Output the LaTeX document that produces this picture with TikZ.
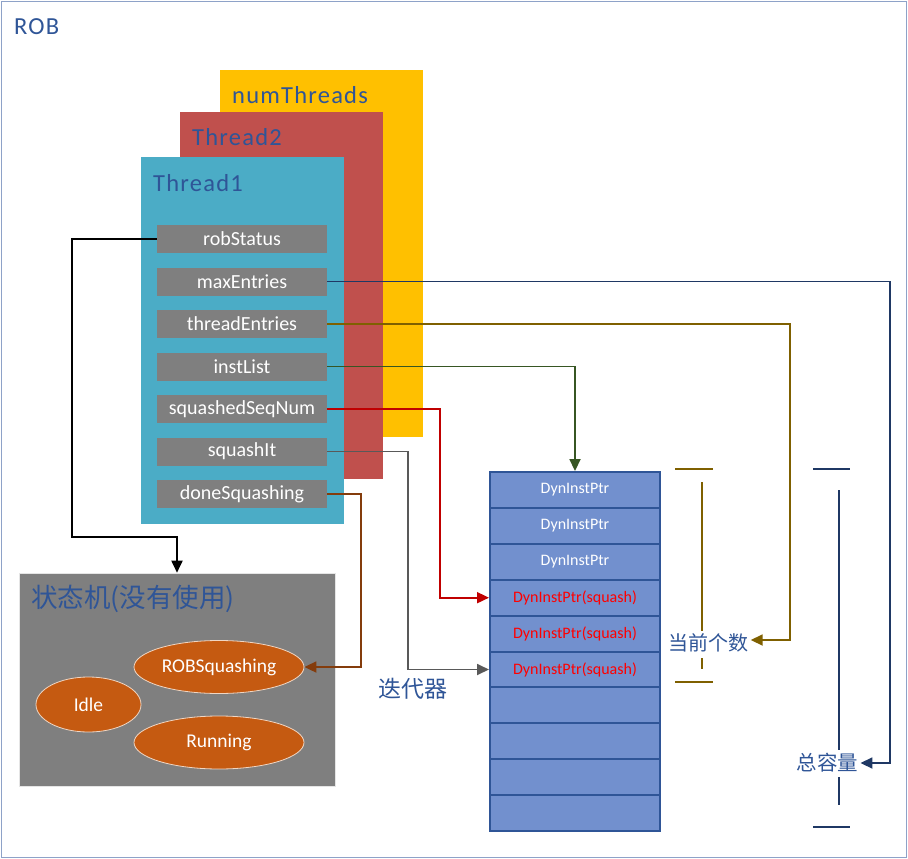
\documentclass[tikz,border=0pt]{standalone}
\usepackage{fontspec}
\setmainfont{Carlito}
\newfontfamily\cjk{Noto Sans CJK SC}
\newfontfamily\widefont[LetterSpace=5]{Carlito}
\usetikzlibrary{arrows.meta,shapes.geometric,calc}
\definecolor{titleblue}{HTML}{2F5597}
\definecolor{outerc}{HTML}{8EA2C8}
\definecolor{yellowc}{HTML}{FFC000}
\definecolor{redc}{HTML}{C0504D}
\definecolor{cyanc}{HTML}{4BACC6}
\definecolor{greyc}{HTML}{7F7F7F}
\definecolor{orangec}{HTML}{C55A11}
\definecolor{cellc}{HTML}{7290CE}
\definecolor{celledge}{HTML}{2F5597}
\definecolor{navyc}{HTML}{1F3864}
\definecolor{goldc}{HTML}{7F6000}
\definecolor{greenc}{HTML}{375623}
\definecolor{sqredc}{HTML}{C00000}
\definecolor{darkgreyc}{HTML}{595959}
\definecolor{brownc}{HTML}{843C0C}
\tikzset{
  threadbox/.style={anchor=north west, inner sep=0pt},
  titletext/.style={anchor=west, text=titleblue, font=\widefont\fontsize{24.5}{27}\selectfont, inner sep=0pt},
  field/.style={fill=greyc, minimum width=170pt, minimum height=28pt, inner sep=0pt, text=white, font=\fontsize{20}{22}\selectfont},
  cell/.style={fill=cellc, draw=celledge, line width=2pt, minimum width=170pt, minimum height=35.9pt, inner sep=0pt, font=\fontsize{16}{18}\selectfont},
  state/.style={ellipse, fill=orangec, draw=white!75!orangec, line width=0.8pt, inner sep=0pt, text=white, font=\fontsize{19.5}{22}\selectfont},
  conn/.style={line width=1.8pt},
  tip/.style={-{Triangle[length=12pt,width=11pt]}},
  cjklabel/.style={text=titleblue, inner sep=2pt, font=\cjk\fontsize{20}{22}\selectfont},
}
\begin{document}
\begin{tikzpicture}[x=1pt,y=-1pt]
\useasboundingbox (0,0) rectangle (908,859);
\draw[outerc, line width=1pt] (1.5,1.5) rectangle (906.5,857.5);
\node[titletext] (rob) at (14,27) {ROB};

% thread boxes
\node[threadbox, fill=yellowc, minimum width=203pt, minimum height=367pt] (nt) at (220,70) {};
\node[titletext] (ntl) at (232,95) {numThreads};
\node[threadbox, fill=redc, minimum width=203pt, minimum height=367pt] (t2) at (180,112) {};
\node[titletext] (t2l) at (192,137) {Thread2};
\node[threadbox, fill=cyanc, minimum width=203pt, minimum height=367pt] (t1) at (141,157) {};
\node[titletext] (t1l) at (153,183) {Thread1};

% fields
\node[field] (robStatus) at (242,239) {robStatus};
\node[field] (maxEntries) at (242,281.5) {maxEntries};
\node[field] (threadEntries) at (242,324) {threadEntries};
\node[field] (instList) at (242,366.5) {instList};
\node[field] (squashedSeqNum) at (242,409) {squashedSeqNum};
\node[field] (squashIt) at (242,451.5) {squashIt};
\node[field] (doneSquashing) at (242,494) {doneSquashing};

% state machine
\node[fill=greyc, draw=white!80!greyc, line width=0.6pt, minimum width=316pt, minimum height=213pt, inner sep=0pt] (sm) at (177,679.5) {};
\node[anchor=west, text=titleblue, inner sep=0pt, font=\cjk\fontsize{26.5}{29}\selectfont] (smt) at (31,599) {状态机(没有使用)};
\node[state, minimum width=170pt, minimum height=53pt] (robsq) at (219,667) {ROBSquashing};
\node[state, minimum width=105pt, minimum height=55pt] (idle) at (88.5,704.5) {Idle};
\node[state, minimum width=170pt, minimum height=53pt] (running) at (219,742.5) {Running};

% array
\node[cell, text=white] (r1) at (575,490) {DynInstPtr};
\node[cell, text=white] (r2) at (575,525.9) {DynInstPtr};
\node[cell, text=white] (r3) at (575,561.8) {DynInstPtr};
\node[cell, text=red] (r4) at (575,597.7) {DynInstPtr(squash)};
\node[cell, text=red] (r5) at (575,633.6) {DynInstPtr(squash)};
\node[cell, text=red] (r6) at (575,669.5) {DynInstPtr(squash)};
\node[cell] (r7) at (575,705.4) {};
\node[cell] (r8) at (575,741.3) {};
\node[cell] (r9) at (575,777.2) {};
\node[cell] (r10) at (575,813.1) {};

% labels
\node[cjklabel, font=\cjk\fontsize{23}{25}\selectfont] (iter) at (412.5,689) {迭代器};
\node[cjklabel] (cur) at (708.5,643) {当前个数};
\node[cjklabel, font=\cjk\fontsize{20.5}{23}\selectfont] (cap) at (827.5,763) {总容量};

% brackets
\draw[goldc, line width=2pt] (675,468.5) -- (713,468.5);
\draw[goldc, line width=2pt] (675,682) -- (713,682);
\draw[goldc, line width=1.6pt] (702,482) -- (702,631);
\draw[goldc, line width=1.6pt] (702,658) -- (702,669);
\draw[navyc, line width=2pt] (813,469) -- (850,469);
\draw[navyc, line width=2pt] (813,827) -- (850,827);
\draw[navyc, line width=1.6pt] (839,490) -- (839,750);
\draw[navyc, line width=1.6pt] (839,777) -- (839,805);

% connectors
\draw[conn, tip, black] (robStatus.west) -- (72,239) -- (72,537) -| (sm.north);
\draw[conn, tip, navyc] (maxEntries.east) -| (890,763) -- (cap.east);
\draw[conn, tip, goldc] (threadEntries.east) -| (790,640) -- (cur.east |- 0,640);
\draw[conn, tip, greenc] (instList.east) -| (r1.north);
\draw[conn, tip, sqredc] (squashedSeqNum.east) -- (440,409) |- (r4.west);
\draw[conn, tip, darkgreyc] (squashIt.east) -- (408,451.5) |- (r6.west);
\draw[conn, tip, brownc] (doneSquashing.east) -- (361,494) |- (robsq.east);
\end{tikzpicture}
\end{document}
